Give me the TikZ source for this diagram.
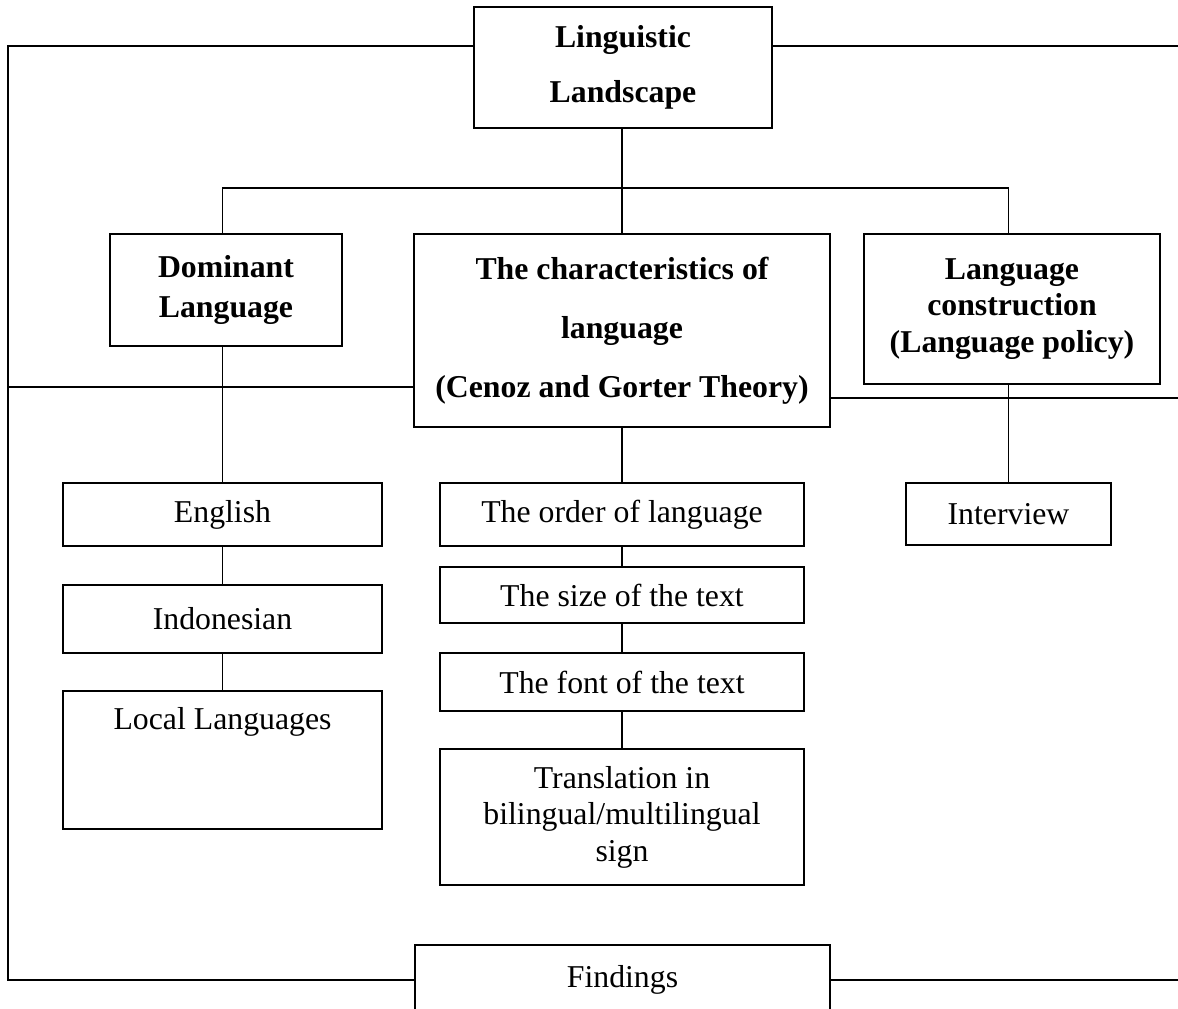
\documentclass[tikz,border=0pt]{standalone}
\usepackage{fontspec}
\setmainfont{Liberation Serif}

\tikzset{
    box/.style={shape=rectangle, draw=black, line width=1.4pt, inner sep=0pt, align=center,
        font=\fontsize{22.6}{26}\selectfont},
    head/.style={box, font=\bfseries\fontsize{22.6}{#1}\selectfont},
    head/.default=28,
    link/.style={draw=black, line width=0.75pt},
}

\begin{document}
\begin{tikzpicture}[x=0.025cm, y=-0.025cm]
    \useasboundingbox (0,0) rectangle (1178,1008);
    \clip (0,0) rectangle (1178,1008);

    % top level
    \node[head=39, minimum width=7.45cm, minimum height=3.025cm] (top) at (623,67.5) {Linguistic\\Landscape};
    \node[head=28.5, minimum width=5.8cm, minimum height=2.8cm] (dom) at (226,290) {Dominant\\Language};
    \node[head=42, minimum width=10.4cm, minimum height=4.825cm] (char) at (622,330.5) {The characteristics of\\language\\(Cenoz and Gorter Theory)};
    \node[head=26, minimum width=7.4cm, minimum height=3.75cm] (lang) at (1012,309) {Language\\construction\\(Language policy)};

    % left column
    \node[box, minimum width=7.975cm, minimum height=1.575cm] (eng) at (222.5,514.5) {English};
    \node[box, minimum width=7.975cm, minimum height=1.7cm] (indo) at (222.5,619) {Indonesian};
    \node[box, minimum width=7.975cm, minimum height=3.45cm,
        label={[anchor=center, yshift=-0.8cm, font=\fontsize{22.6}{26}\selectfont]north:Local Languages}] (local) at (222.5,760) {};

    % middle column
    \node[box, minimum width=9.1cm, minimum height=1.575cm] (order) at (622,514.5) {The order of language};
    \node[box, minimum width=9.1cm, minimum height=1.4cm] (size) at (622,595) {The size of the text};
    \node[box, minimum width=9.1cm, minimum height=1.45cm] (font) at (622,682) {The font of the text};
    \node[box, minimum width=9.1cm, minimum height=3.4cm] (trans) at (622,817) {Translation in\\bilingual/multilingual\\sign};

    % right column
    \node[box, minimum width=5.125cm, minimum height=1.55cm] (intv) at (1008.5,514) {Interview};

    \node[box, minimum width=10.375cm, minimum height=1.75cm] (find) at (622.5,980) {Findings};

    % frame lines
    \coordinate (tl) at (8,46);
    \coordinate (tr) at (1178,46);
    \coordinate (ml) at (8,387);
    \coordinate (mr) at (1178,398);
    \coordinate (bl) at (8,980);
    \coordinate (br) at (1178,980);
    \coordinate (bus) at (622,188);

    \draw[link] (top.west |- tl) -- (tl) -- (bl) -- (find.west |- bl);
    \draw[link] (top.east |- tr) -- (tr);
    \draw[link] (ml) -- (char.west |- ml);
    \draw[link] (char.east |- mr) -- (mr);
    \draw[link] (find.east |- br) -- (br);

    % tree
    \draw[link] (top.south -| bus) -- (bus);
    \draw[link] (dom.north -| eng) |- (bus) -| (lang.north -| intv);
    \draw[link] (bus) -- (char.north);

    \draw[link] (dom.south -| eng) -- (eng.north);
    \draw[link] (eng) -- (indo);
    \draw[link] (indo) -- (local);

    \draw[link] (char) -- (order);
    \draw[link] (order) -- (size);
    \draw[link] (size) -- (font);
    \draw[link] (font) -- (trans);

    \draw[link] (lang.south -| intv) -- (intv.north);
\end{tikzpicture}
\end{document}
